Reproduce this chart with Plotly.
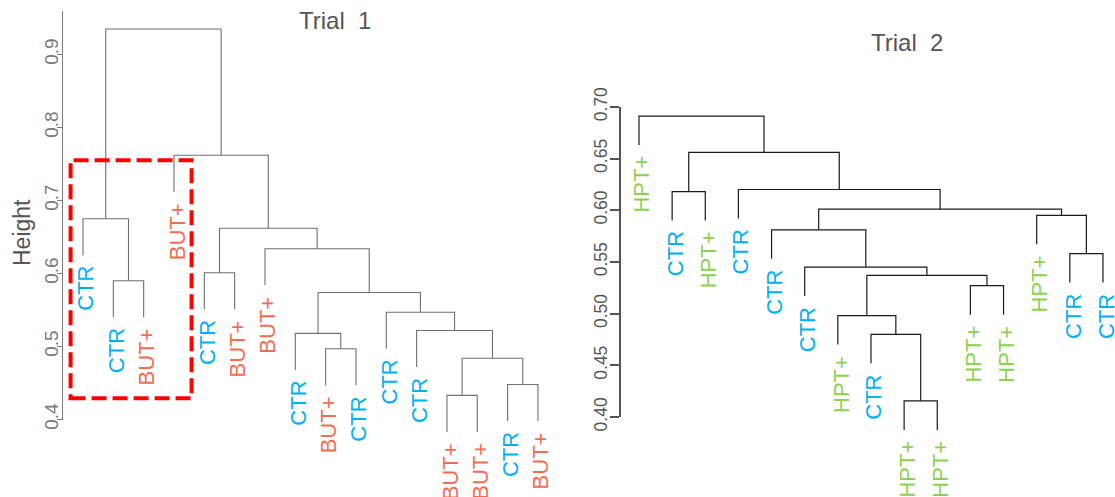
import plotly.graph_objects as go

W, H = 1115, 497
FONT = "Liberation Sans, Arial, sans-serif"

# ---------------- data ----------------
trial1_labels = ["CTR", "CTR", "BUT+", "BUT+", "CTR", "BUT+", "BUT+", "CTR",
                 "BUT+", "CTR", "CTR", "CTR", "BUT+", "BUT+", "CTR", "BUT+"]
# hclust-style merge table: negative = leaf number, positive = earlier merge row
trial1_merge = [(-13, -14), (-15, -16), (1, 2), (-9, -10), (-8, 4), (-12, 3),
                (-11, 6), (5, 7), (-2, -3), (-5, -6), (-7, 8), (10, 11),
                (-1, 9), (-4, 12), (13, 14)]
trial1_height = [0.433, 0.448, 0.484, 0.497, 0.518, 0.522, 0.547, 0.574,
                 0.590, 0.601, 0.634, 0.662, 0.675, 0.762, 0.935]
trial1_ticks = [0.4, 0.5, 0.6, 0.7, 0.8, 0.9]
trial1_ticktext = ["0.4", "0.5", "0.6", "0.7", "0.8", "0.9"]

trial2_labels = ["HPT+", "CTR", "HPT+", "CTR", "CTR", "CTR", "HPT+", "CTR",
                 "HPT+", "HPT+", "HPT+", "HPT+", "HPT+", "CTR", "CTR"]
trial2_merge = [(-9, -10), (-8, 1), (-7, 2), (-11, -12), (3, 4), (-6, 5),
                (-14, -15), (-5, 6), (-13, 7), (8, 9), (-2, -3), (-4, 10),
                (11, 12), (-1, 13)]
trial2_height = [0.4155, 0.480, 0.498, 0.527, 0.537, 0.545, 0.558, 0.581,
                 0.595, 0.601, 0.618, 0.620, 0.656, 0.691]
trial2_ticks = [0.40, 0.45, 0.50, 0.55, 0.60, 0.65, 0.70]
trial2_ticktext = ["0.40", "0.45", "0.50", "0.55", "0.60", "0.65", "0.70"]

# highlighted cluster box in Trial 1 (leaf index / height units)
box1 = dict(x0=0.59, x1=4.58, y0=0.429, y1=0.755)

group_colors = {"CTR": "#00B0F0", "BUT+": "#F26E52", "HPT+": "#8DD150"}

# ---------------- panel geometry (pixels) ----------------
panel1 = dict(leaf1=83, step=30.33, y_base=419.5, px_per=730, dom=(0, 575),
              axis_x=63, axis_top=0.96, hang=0.05)
panel2 = dict(leaf1=639, step=33.14, y_base=417, px_per=1034, dom=(575, 1115),
              axis_x=621, axis_top=0.70, hang=0.028)


def dendro_segments(merge, height, hang):
    xs, ys, leaf_end = [], [], {}
    node_x, node_h = {}, {}
    for i, ((a, b), h) in enumerate(zip(merge, height), start=1):
        pts = []
        for c in (a, b):
            if c < 0:
                cx, ch = -c, h - hang
                leaf_end[-c] = ch
            else:
                cx, ch = node_x[c], node_h[c]
            pts.append((cx, ch))
        (xa, ha), (xb, hb) = pts
        xs += [xa, xa, xb, xb, None]
        ys += [ha, h, h, hb, None]
        node_x[i] = (xa + xb) / 2
        node_h[i] = h
    return xs, ys, leaf_end


def x_range(p):
    return [1 + (p["dom"][0] - p["leaf1"]) / p["step"],
            1 + (p["dom"][1] - p["leaf1"]) / p["step"]]


def y_range(p):
    return [0.4 - (H - p["y_base"]) / p["px_per"], 0.4 + p["y_base"] / p["px_per"]]


def y_domain(p):
    top_px = p["y_base"] - (p["axis_top"] - 0.4) * p["px_per"]
    return [(H - p["y_base"]) / H, (H - top_px) / H]


fig = go.Figure()
annotations = []

panels = [
    (panel1, trial1_labels, trial1_merge, trial1_height, "#6f6f6f", 1.1, "x", "y"),
    (panel2, trial2_labels, trial2_merge, trial2_height, "#1a1a1a", 1.2, "x2", "y2"),
]
for p, labels, merge, height, lcolor, lwidth, xa, ya in panels:
    xs, ys, leaf_end = dendro_segments(merge, height, p["hang"])
    fig.add_trace(go.Scatter(x=xs, y=ys, mode="lines", xaxis=xa, yaxis=ya,
                             line=dict(color=lcolor, width=lwidth),
                             hoverinfo="skip", showlegend=False))
    for i, lab in enumerate(labels, start=1):
        annotations.append(dict(
            x=i, y=leaf_end[i], xref=xa, yref=ya, text=lab, showarrow=False,
            textangle=-90, xanchor="center", yanchor="top",
            xshift=3, yshift=-9,
            font=dict(family=FONT, size=22, color=group_colors[lab])))

# empty traces carrying the visible height axes
fig.add_trace(go.Scatter(x=[None], y=[None], xaxis="x3", yaxis="y3",
                         showlegend=False, hoverinfo="skip"))
fig.add_trace(go.Scatter(x=[None], y=[None], xaxis="x4", yaxis="y4",
                         showlegend=False, hoverinfo="skip"))

fig.add_shape(type="rect", xref="x", yref="y", **box1,
              line=dict(color="#FF0000", width=4, dash="15px,6px"))

# titles and axis label
annotations += [
    dict(x=335 / W, y=1 - 21 / H, xref="paper", yref="paper", text="Trial  1",
         showarrow=False, xanchor="center", yanchor="middle",
         font=dict(family=FONT, size=24, color="#555555")),
    dict(x=907 / W, y=1 - 42.5 / H, xref="paper", yref="paper", text="Trial  2",
         showarrow=False, xanchor="center", yanchor="middle",
         font=dict(family=FONT, size=24, color="#555555")),
    dict(x=22 / W, y=1 - 233 / H, xref="paper", yref="paper", text="Height",
         showarrow=False, xanchor="center", yanchor="middle", textangle=-90,
         font=dict(family=FONT, size=23, color="#555555")),
]

hidden = dict(visible=False, showgrid=False, zeroline=False, automargin=False)
fig.update_layout(
    template="none",
    width=W, height=H, margin=dict(l=0, r=0, t=0, b=0, pad=0),
    paper_bgcolor="white", plot_bgcolor="rgba(0,0,0,0)",
    font=dict(family=FONT),
    showlegend=False,
    annotations=annotations,
    xaxis=dict(domain=[panel1["dom"][0] / W, panel1["dom"][1] / W],
               range=x_range(panel1), **hidden),
    yaxis=dict(domain=[0, 1], range=y_range(panel1), **hidden),
    xaxis2=dict(domain=[panel2["dom"][0] / W, panel2["dom"][1] / W],
                range=x_range(panel2), anchor="y2", **hidden),
    yaxis2=dict(domain=[0, 1], range=y_range(panel2), anchor="x2", **hidden),
    xaxis3=dict(domain=[panel1["axis_x"] / W, panel1["dom"][1] / W],
                range=[0, 1], anchor="y3", **hidden),
    yaxis3=dict(domain=y_domain(panel1), range=[0.4, panel1["axis_top"]],
                anchor="x3", showline=True, linecolor="#7a7a7a", linewidth=1,
                ticks="outside", ticklen=5, tickcolor="#7a7a7a", tickwidth=1,
                tickvals=trial1_ticks, ticktext=trial1_ticktext, tickangle=-90,
                ticklabelstandoff=-9,
                tickfont=dict(family=FONT, size=19, color="#7a7a7a"),
                showgrid=False, zeroline=False, automargin=False),
    xaxis4=dict(domain=[panel2["axis_x"] / W, 1], range=[0, 1], anchor="y4",
                **hidden),
    yaxis4=dict(domain=y_domain(panel2), range=[0.4, panel2["axis_top"]],
                anchor="x4", showline=True, linecolor="#555555", linewidth=1.5,
                ticks="outside", ticklen=9, tickcolor="#555555", tickwidth=1.5,
                tickvals=trial2_ticks, ticktext=trial2_ticktext, tickangle=-90,
                ticklabelstandoff=-4,
                tickfont=dict(family=FONT, size=17.5, color="#555555"),
                showgrid=False, zeroline=False, automargin=False),
)

fig.write_html("out.html")
